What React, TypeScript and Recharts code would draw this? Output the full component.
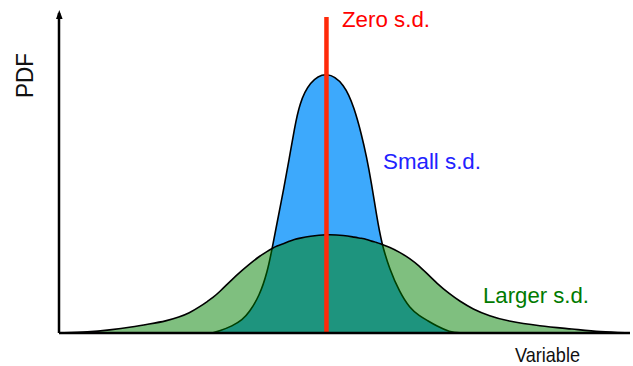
import { ComposedChart, Area, XAxis, YAxis, ReferenceLine } from 'recharts';

// Variable values (sample positions along the x axis)
const variable = [
  -5.34, -4.74, -4.34, -3.88, -3.54, -3.2, -2.94, -2.74, -2.54, -2.34, -2.28, -2.14,
  -1.88, -1.68, -1.54, -1.34, -1.18, -1.08, -1.0, -0.84, -0.74, -0.64, -0.54, -0.34,
  0, 0.36, 0.56, 0.7, 0.8, 0.9, 1.0, 1.1, 1.26, 1.46, 1.66, 1.86, 2.0, 2.2, 2.46,
  2.66, 2.92, 3.26, 3.6, 4.26, 4.92, 5.46, 6.06,
];

// PDF of the small s.d. curve
const smallSd = [
  0, 0, 0, 0, 0, 0, 0, 0, 0, 0, 0, 0.02,
  0.07, 0.13, 0.21, 0.37, 0.61, 0.86, 1.07, 1.48, 1.76, 2.05, 2.3, 2.52,
  2.63, 2.5, 2.25, 1.99, 1.77, 1.5, 1.18, 0.9, 0.64, 0.41, 0.25, 0.17, 0.13, 0.07, 0.01,
  0, 0, 0, 0, 0, 0, 0, 0,
];

// PDF of the larger s.d. curve
const largerSd = [
  0, 0.01, 0.03, 0.06, 0.09, 0.12, 0.16, 0.2, 0.26, 0.33, 0.35, 0.41,
  0.54, 0.63, 0.69, 0.77, 0.82, 0.85, 0.87, 0.9, 0.92, 0.94, 0.95, 0.97,
  0.99, 0.98, 0.96, 0.95, 0.94, 0.92, 0.91, 0.89, 0.86, 0.81, 0.75, 0.67, 0.6, 0.5, 0.39,
  0.32, 0.24, 0.17, 0.12, 0.07, 0.04, 0.01, 0,
];

const xDomain = [-5.34, 6.06];
const yDomain = [0, 3.21];
const zeroTop = 3.17;

const data = variable.map((x, i) => ({ x, small: smallSd[i], larger: largerSd[i] }));

const font = '"Liberation Sans", Arial, sans-serif';

export default function App() {
  return (
    <div style={{ position: 'absolute', left: 0, top: 0, width: 633, height: 366, background: '#fff' }}>
      <ComposedChart
        width={633}
        height={366}
        data={data}
        margin={{ top: 13, right: 3, bottom: 32, left: 58 }}
      >
        <XAxis
          dataKey="x"
          type="number"
          domain={xDomain}
          allowDataOverflow
          tick={false}
          tickLine={false}
          height={1}
          axisLine={{ stroke: '#000', strokeWidth: 2.5 }}
        />
        <YAxis
          type="number"
          domain={yDomain}
          allowDataOverflow
          tick={false}
          tickLine={false}
          width={1}
          axisLine={{ stroke: '#000', strokeWidth: 2.5 }}
        />
        <Area
          type="basis"
          dataKey="small"
          stroke="#000"
          strokeWidth={1.6}
          fill="#3DA9FC"
          fillOpacity={1}
          isAnimationActive={false}
          dot={false}
          activeDot={false}
        />
        <Area
          type="basis"
          dataKey="larger"
          stroke="#000"
          strokeWidth={1.6}
          fill="#008000"
          fillOpacity={0.5}
          isAnimationActive={false}
          dot={false}
          activeDot={false}
        />
        <ReferenceLine
          segment={[{ x: 0, y: 0 }, { x: 0, y: zeroTop }]}
          stroke="#FF2A0A"
          strokeWidth={4.5}
        />
        <path d="M59.3,10 L56,19 L62.6,19 Z" fill="#000" />
        <text x={342} y={27} fontFamily={font} fontSize={22} fill="#FF0000" textLength={88} lengthAdjust="spacingAndGlyphs">
          Zero s.d.
        </text>
        <text x={383} y={169} fontFamily={font} fontSize={22} fill="#2222FF" textLength={98} lengthAdjust="spacingAndGlyphs">
          Small s.d.
        </text>
        <text x={483} y={303} fontFamily={font} fontSize={22} fill="#007A00" textLength={106} lengthAdjust="spacingAndGlyphs">
          Larger s.d.
        </text>
        <text x={515} y={362} fontFamily={font} fontSize={21} fill="#111" textLength={65} lengthAdjust="spacingAndGlyphs">
          Variable
        </text>
        <text
          x={33}
          y={98}
          fontFamily={font}
          fontSize={23}
          fill="#111"
          textLength={45}
          lengthAdjust="spacingAndGlyphs"
          transform="rotate(-90, 33, 98)"
        >
          PDF
        </text>
      </ComposedChart>
    </div>
  );
}
